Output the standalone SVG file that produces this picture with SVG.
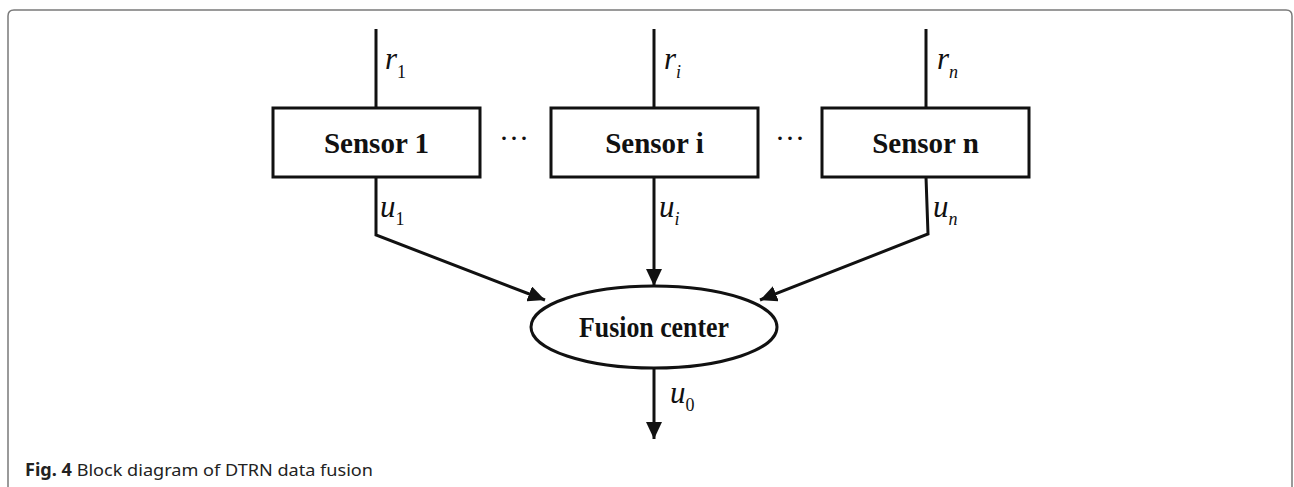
<svg xmlns="http://www.w3.org/2000/svg" width="1294" height="487" viewBox="0 0 1294 487">
  <style>
    .frame { fill: none; stroke: #7a7a7a; stroke-width: 1.5; }
    .box { fill: #fff; stroke: #111; stroke-width: 3; }
    .wire { fill: none; stroke: #111; stroke-width: 3; stroke-linejoin: miter; }
    .title { font-family: "Liberation Serif", "Times New Roman", serif; font-weight: bold; font-size: 29px; fill: #111; text-anchor: middle; }
    .sym { font-family: "Liberation Serif", "Times New Roman", serif; font-style: italic; font-size: 31px; fill: #111; }
    .sub { font-size: 18px; }
    .up { font-style: normal; }
    .dots { font-family: "Liberation Serif", serif; font-size: 30px; fill: #111; text-anchor: middle; }
    .caption { font-family: "Noto Sans", "Open Sans", sans-serif; font-size: 17px; fill: #222; }
  </style>
  <defs>
    <marker id="arrow" markerUnits="userSpaceOnUse" markerWidth="18" markerHeight="16" refX="17" refY="8" orient="auto">
      <path d="M0,0 L17,8 L0,16 Z" fill="#111"/>
    </marker>
  </defs>

  <rect width="1294" height="487" fill="#fff"/>
  <!-- figure frame, open at the bottom -->
  <path class="frame" d="M8,487 L8,16 Q8,10 14,10 L1286,10 Q1292,10 1292,16 L1292,487"/>

  <!-- connectors -->
  <g id="connectors">
    <line class="wire" x1="376" y1="29" x2="376" y2="108"/>
    <line class="wire" x1="654" y1="29" x2="654" y2="108"/>
    <line class="wire" x1="926" y1="29" x2="926" y2="108"/>
    <polyline class="wire" points="376,177 376,235 545,300" marker-end="url(#arrow)"/>
    <line class="wire" x1="654" y1="177" x2="654" y2="286" marker-end="url(#arrow)"/>
    <polyline class="wire" points="926,177 928,234 760,300" marker-end="url(#arrow)"/>
    <line class="wire" x1="654" y1="368" x2="654" y2="439" marker-end="url(#arrow)"/>
  </g>

  <!-- signal labels -->
  <g id="labels">
    <text class="sym" x="385" y="69">r<tspan class="sub up" dy="9">1</tspan></text>
    <text class="sym" x="664" y="69">r<tspan class="sub" dy="9">i</tspan></text>
    <text class="sym" x="937" y="69">r<tspan class="sub" dy="9">n</tspan></text>
    <text class="sym" x="380" y="217">u<tspan class="sub up" dy="8">1</tspan></text>
    <text class="sym" x="659" y="217">u<tspan class="sub" dy="8">i</tspan></text>
    <text class="sym" x="933" y="217">u<tspan class="sub" dy="8">n</tspan></text>
    <text class="sym" x="670" y="403">u<tspan class="sub up" dy="8">0</tspan></text>
  </g>

  <g id="sensor1">
    <rect class="box" x="273" y="108" width="207" height="69"/>
    <text class="title" x="376.5" y="153">Sensor 1</text>
  </g>
  <text class="dots" x="514" y="148">···</text>
  <g id="sensori">
    <rect class="box" x="551" y="108" width="207" height="69"/>
    <text class="title" x="654.5" y="153">Sensor i</text>
  </g>
  <text class="dots" x="790" y="148">···</text>
  <g id="sensorn">
    <rect class="box" x="822" y="108" width="207" height="69"/>
    <text class="title" x="925.5" y="153">Sensor n</text>
  </g>

  <g id="fusion">
    <ellipse class="box" cx="654" cy="327" rx="123" ry="41"/>
    <text class="title" x="654" y="337" textLength="150" lengthAdjust="spacingAndGlyphs">Fusion center</text>
  </g>

  <text class="caption" x="25" y="476" textLength="348" lengthAdjust="spacingAndGlyphs"><tspan font-weight="bold">Fig. 4</tspan> Block diagram of DTRN data fusion</text>
</svg>
